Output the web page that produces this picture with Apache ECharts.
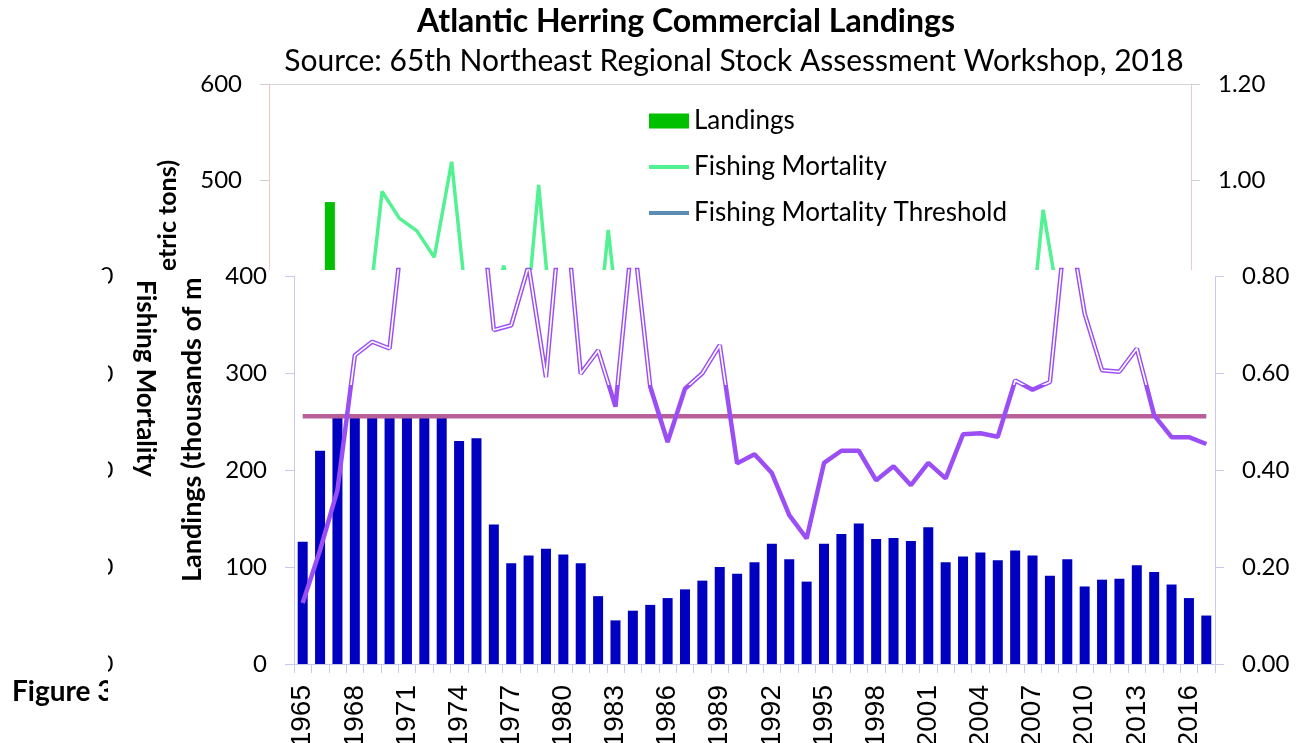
<!DOCTYPE html>
<html><head><meta charset="utf-8">
<script src="https://cdn.jsdelivr.net/npm/echarts@6/dist/echarts.min.js"></script>
<style>html,body{margin:0;padding:0;background:#fff}#c{width:1306px;height:743px}</style>
</head><body><div id="c"></div>
<script>
const years = ['1965','1966','1967','1968','1969','1970','1971','1972','1973','1974','1975','1976','1977','1978','1979','1980','1981','1982','1983','1984','1985','1986','1987','1988','1989','1990','1991','1992','1993','1994','1995','1996','1997','1998','1999','2000','2001','2002','2003','2004','2005','2006','2007','2008','2009','2010','2011','2012','2013','2014','2015','2016','2017'];

// Landings (thousands of metric tons) as visible in the lower panel
const landings = [126,220,254,254,254,254,254,254,254,230,233,144,104,112,119,113,104,70,45,55,61,68,77,86,100,93,105,124,108,85,124,134,145,129,130,127,141,105,111,115,107,117,112,91,108,80,87,88,102,95,82,68,50];

// Landings as visible in the upper (background) panel
const landingsUpper = ['-','-','-',477,'-','-','-','-','-','-','-','-','-','-','-','-','-','-','-','-','-','-','-','-','-','-','-','-','-','-','-','-','-','-','-','-','-','-','-','-','-','-','-','-','-','-','-','-','-','-','-','-','-'];

// Fishing mortality
const mortality = [0.126,0.235,0.359,0.637,0.665,0.651,0.976,0.920,0.894,0.839,1.038,0.689,0.699,0.822,0.592,0.990,0.599,0.647,0.531,0.896,0.572,0.458,0.568,0.600,0.658,0.414,0.433,0.394,0.307,0.259,0.415,0.440,0.440,0.379,0.408,0.369,0.415,0.383,0.474,0.476,0.469,0.585,0.566,0.582,0.938,0.723,0.606,0.603,0.651,0.513,0.468,0.468,0.454];

// Fishing mortality threshold
const threshold = [0.511,0.511,0.511,0.511,0.511,0.511,0.511,0.511,0.511,0.511,0.511,0.511,0.511,0.511,0.511,0.511,0.511,0.511,0.511,0.511,0.511,0.511,0.511,0.511,0.511,0.511,0.511,0.511,0.511,0.511,0.511,0.511,0.511,0.511,0.511,0.511,0.511,0.511,0.511,0.511,0.511,0.511,0.511,0.511,0.511,0.511,0.511,0.511,0.511,0.511,0.511,0.511,0.511];

const clippedZeroRows = [276, 374, 470, 567, 664];

const FONT = 'Lato';
const PURPLE = '#9c4ef6';
const chart = echarts.init(document.getElementById('c'), null, {renderer: 'canvas'});

const graphics = [
  {type:'text', zlevel:0, z:1, x:168, y:160, rotation:Math.PI/2,
    style:{text:'Landings (thousands of metric tons)', fontFamily:FONT, fontWeight:'bold', fontSize:25, fill:'#000', align:'right', verticalAlign:'middle'}},
  {type:'text', zlevel:0, z:1, x:12, y:692,
    style:{text:'Figure 3', fontFamily:FONT, fontWeight:'bold', fontSize:28, fill:'#000', align:'left', verticalAlign:'middle'}},
  {type:'rect', zlevel:1, z:0, shape:{x:108, y:270, width:1198, height:473}, style:{fill:'#ffffff'}},
  {type:'text', zlevel:1, z:10, x:192, y:582, rotation:Math.PI/2,
    style:{text:'Landings (thousands of metric tons)', fontFamily:FONT, fontWeight:'bold', fontSize:27, fill:'#000', align:'left', verticalAlign:'middle', width:312, overflow:'truncate', ellipsis:''}},
  {type:'text', zlevel:1, z:10, x:145, y:280, rotation:-Math.PI/2,
    style:{text:'Fishing Mortality', fontFamily:FONT, fontWeight:'bold', fontSize:26, fill:'#000', align:'left', verticalAlign:'middle'}}
];
clippedZeroRows.forEach(function (yy) {
  graphics.push({type:'text', zlevel:1, z:10, x:113.5, y:yy,
    style:{text:'0', fontFamily:FONT, fontSize:24, fill:'#000', align:'right', verticalAlign:'middle'}});
});
graphics.push({type:'rect', zlevel:1, z:20, shape:{x:60, y:270, width:48, height:406}, style:{fill:'#ffffff'}});
graphics.push({type:'rect', zlevel:1, z:20, shape:{x:1289, y:270, width:17, height:473}, style:{fill:'#ffffff'}});

const axisLbl = {fontFamily:FONT, fontSize:24, color:'#000'};
const hollowSplit = 385 / 743;

const option = {
  animation: false,
  backgroundColor: '#ffffff',
  textStyle: {fontFamily: FONT},
  title: [
    {text:'Atlantic Herring Commercial Landings', left:686, top:6, textAlign:'center', padding:0,
      textStyle:{fontFamily:FONT, fontWeight:'bold', fontSize:32, color:'#000'}},
    {text:'Source: 65th Northeast Regional Stock Assessment Workshop, 2018', left:734, top:46, textAlign:'center', padding:0,
      textStyle:{fontFamily:FONT, fontWeight:'normal', fontSize:30, color:'#000'}}
  ],
  legend: {
    orient:'vertical', left:647, top:108, itemWidth:40, itemHeight:15, itemGap:20, padding:0,
    selectedMode:false,
    data:[
      {name:'Landings', icon:'rect'},
      {name:'Fishing Mortality', itemStyle:{opacity:0}, lineStyle:{width:4}},
      {name:'Fishing Mortality Threshold', itemStyle:{opacity:0}, lineStyle:{width:4}}
    ],
    textStyle:{fontFamily:FONT, fontSize:26, color:'#000', lineHeight:26}
  },
  grid: [
    {left:269, right:115, top:84, height:192, containLabel:false, outerBoundsMode:'none'},
    {left:294, right:91, top:276.3, bottom:79, containLabel:false, outerBoundsMode:'none'},
    {left:294, right:91, top:270, bottom:79, containLabel:false, outerBoundsMode:'none'}
  ],
  xAxis: [
    {gridIndex:0, type:'category', data:years, position:'top', zlevel:0,
      axisLine:{show:true, lineStyle:{color:'#d6d6d6', width:1}}, axisTick:{show:false}, axisLabel:{show:false}, splitLine:{show:false}},
    {gridIndex:1, type:'category', data:years, position:'bottom', zlevel:1, z:5,
      axisLine:{show:true, lineStyle:{color:'#c8c8f0', width:1}},
      axisTick:{show:true, interval:0, length:9, lineStyle:{color:'#c8c8f0'}},
      axisLabel:{interval:2, rotate:90, margin:21, fontFamily:'Liberation Sans', fontSize:28, color:'#000'},
      splitLine:{show:false}},
    {gridIndex:2, type:'category', data:years, show:false, zlevel:1}
  ],
  yAxis: [
    {gridIndex:0, type:'value', min:400, max:600, interval:100, position:'left', zlevel:0,
      axisLine:{show:true, lineStyle:{color:'#f2c6c6'}}, axisTick:{show:true, length:9, lineStyle:{color:'#cfcfcf'}},
      axisLabel:Object.assign({showMinLabel:false, margin:27}, axisLbl), splitLine:{show:false}},
    {gridIndex:0, type:'value', min:0.8, max:1.2, interval:0.2, position:'right', zlevel:0,
      axisLine:{show:true, lineStyle:{color:'#e6cccc'}}, axisTick:{show:true, length:9, lineStyle:{color:'#cfcfcf'}},
      axisLabel:Object.assign({showMinLabel:false, margin:27, formatter:function(v){return v.toFixed(2);}}, axisLbl), splitLine:{show:false}},
    {gridIndex:1, type:'value', min:0, max:400, interval:100, position:'left', zlevel:1, z:5,
      axisLine:{show:true, lineStyle:{color:'#c8c8f0'}}, axisTick:{show:true, length:9, lineStyle:{color:'#c8c8f0'}},
      axisLabel:Object.assign({margin:27}, axisLbl), splitLine:{show:false}},
    {gridIndex:1, type:'value', min:0, max:0.8, interval:0.2, position:'right', zlevel:1, z:5,
      axisLine:{show:true, lineStyle:{color:'#c8c8f0'}}, axisTick:{show:true, length:9, lineStyle:{color:'#c8c8f0'}},
      axisLabel:Object.assign({margin:27, formatter:function(v){return v.toFixed(2);}}, axisLbl), splitLine:{show:false}},
    {gridIndex:2, type:'value', min:0, max:0.813, show:false, zlevel:1}
  ],
  series: [
    {name:'Landings', type:'bar', xAxisIndex:0, yAxisIndex:0, data:landingsUpper, barWidth:10,
      itemStyle:{color:'#00c000'}, zlevel:0, z:2},
    {name:'Fishing Mortality', type:'line', xAxisIndex:0, yAxisIndex:1, data:mortality, symbol:'none', clip:true,
      lineStyle:{color:'#52f292', width:3.5}, itemStyle:{color:'#52f292'}, zlevel:0, z:3},
    {name:'Fishing Mortality Threshold', type:'line', xAxisIndex:0, yAxisIndex:1, data:threshold, symbol:'none', clip:true,
      lineStyle:{color:'#5b8db4', width:4}, itemStyle:{color:'#5b8db4'}, zlevel:0, z:3},
    {name:'Landings', type:'bar', xAxisIndex:1, yAxisIndex:2, data:landings, barWidth:10,
      itemStyle:{color:'#0000c0'}, zlevel:1, z:6},
    {name:'Fishing Mortality Threshold', type:'line', xAxisIndex:1, yAxisIndex:3, data:threshold, symbol:'none',
      lineStyle:{color:'#b85e98', width:4.5}, itemStyle:{color:'#b85e98'}, zlevel:1, z:7},
    {name:'Fishing Mortality', type:'line', xAxisIndex:2, yAxisIndex:4, data:mortality, symbol:'none', clip:true,
      lineStyle:{color:PURPLE, width:4.5}, itemStyle:{color:PURPLE}, zlevel:1, z:8},
    {name:'Fishing Mortality', type:'line', xAxisIndex:2, yAxisIndex:4, data:mortality, symbol:'none', clip:true,
      lineStyle:{width:1.6, color:{type:'linear', x:0, y:0, x2:0, y2:743, global:true,
        colorStops:[{offset:0, color:'#ffffff'}, {offset:hollowSplit, color:'#ffffff'}, {offset:hollowSplit, color:PURPLE}, {offset:1, color:PURPLE}]}},
      itemStyle:{color:PURPLE}, zlevel:1, z:9}
  ],
  graphic: graphics
};
chart.setOption(option);
</script>
</body></html>
